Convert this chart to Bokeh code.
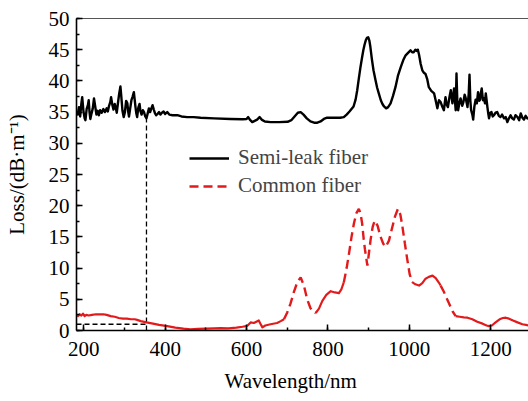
import numpy as np
from bokeh.plotting import figure
from bokeh.models import LinearAxis, SingleIntervalTicker, FixedTicker, Legend, LegendItem, Title
from bokeh.embed import file_html
from bokeh.resources import INLINE

# ---- data ----
semi_wl = [182, 185, 188, 191, 194, 196, 199, 202, 204, 207, 210, 212, 214, 216, 219, 222, 225, 228, 231, 234,
           237, 240, 244, 248, 252, 256, 259, 262, 265, 267, 270, 273, 276, 278, 281, 284, 287, 290, 292, 295,
           298, 301, 304, 307, 309, 311, 314, 317, 320, 323, 325, 327, 329, 331, 334, 337, 339, 342, 345, 348,
           351, 354, 357, 360, 363, 366, 369, 372, 375, 378, 381, 385, 388, 392, 396, 400, 405, 410, 418, 430,
           440, 454, 470, 487, 520, 560, 590, 600, 604, 608, 614, 620, 626, 632, 637, 645, 659, 680, 701, 710,
           718, 726, 733, 740, 748, 757, 766, 774, 782, 790, 798, 815, 830, 839, 846, 853, 858, 863, 868, 872,
           876, 880, 884, 887, 890, 893, 896, 899, 902, 904, 908, 912, 917, 921, 925, 930, 934, 938, 943, 948,
           954, 960, 966, 972, 979, 985, 991, 997, 1003, 1007, 1011, 1015, 1018, 1021, 1024, 1028, 1032, 1036,
           1040, 1044, 1048, 1054, 1061, 1065, 1069, 1073, 1077, 1081, 1085, 1089, 1092, 1095, 1099, 1102, 1106,
           1110, 1114, 1116, 1118, 1120, 1123, 1126, 1130, 1133, 1136, 1138, 1141, 1143, 1146, 1148, 1150, 1152,
           1155, 1157, 1160, 1163, 1166, 1169, 1172, 1174, 1176, 1178, 1181, 1184, 1186, 1188, 1190, 1192, 1194,
           1196, 1199, 1202, 1205, 1208, 1212, 1216, 1220, 1224, 1228, 1233, 1237, 1241, 1245, 1249, 1253, 1257,
           1261, 1266, 1270, 1274, 1278, 1282, 1286, 1290, 1295]
semi_loss = [35.0, 34.6, 35.8, 34.3, 36.4, 37.4, 35.2, 34.0, 33.7, 35.5, 36.1, 36.9, 35.0, 33.9, 34.8, 35.6, 37.2, 35.9, 34.6, 35.2,
             34.5, 35.3, 34.9, 35.5, 35.0, 35.6, 35.1, 36.0, 36.6, 37.4, 36.2, 35.4, 36.3, 35.8, 34.9, 36.5, 38.0, 39.1, 37.6, 35.2,
             34.2, 35.0, 36.8, 36.4, 35.1, 34.3, 35.6, 36.9, 37.5, 38.2, 37.0, 35.8, 34.8, 34.2, 35.7, 36.3, 35.2, 34.6, 35.3, 35.0,
             34.3, 34.0, 34.8, 35.6, 35.0, 35.6, 36.1, 35.4, 34.8, 34.5, 34.7, 35.0, 34.6, 34.9, 35.1, 34.7, 35.0, 34.6, 34.5, 34.5,
             34.3, 34.2, 34.2, 34.1, 34.0, 33.9, 33.85, 33.9, 34.2, 33.8, 33.4, 33.6, 33.8, 34.2, 33.8, 33.5, 33.4, 33.4, 33.45, 33.7,
             34.3, 34.9, 35.0, 34.6, 34.0, 33.5, 33.3, 33.3, 33.5, 33.9, 34.1, 34.1, 34.1, 34.2, 34.6, 35.1, 35.5, 35.9, 37.0, 38.5,
             40.4, 42.2, 43.8, 44.9, 45.8, 46.5, 46.9, 47.0, 46.4, 45.6, 43.5, 41.7, 40.1, 38.9, 38.0, 36.9, 36.3, 35.9, 35.6, 35.8,
             36.4, 37.6, 39.0, 40.8, 42.2, 43.3, 44.1, 44.5, 44.9, 44.6, 44.6, 45.0, 44.8, 45.0, 44.2, 42.7, 41.7, 41.3,
             41.1, 40.3, 39.0, 38.4, 38.0, 36.8, 35.6, 36.9, 36.6, 35.9, 35.3, 37.4, 36.2, 35.8, 37.5, 38.5, 36.4,
             38.8, 35.3, 41.2, 36.8, 35.3, 36.4, 37.2, 36.0, 36.6, 37.8, 37.4, 36.5, 35.8, 37.9, 41.0, 36.9, 35.3,
             34.6, 33.8, 35.9, 37.0, 36.4, 38.2, 36.8, 37.0, 38.1, 38.8, 36.9, 37.2, 36.4, 38.0, 36.9, 35.8, 34.8,
             34.0, 34.9, 35.0, 34.3, 34.5, 34.9, 35.0, 34.4, 34.2, 34.6, 34.0, 34.2, 33.4, 34.0, 34.5, 34.0, 33.8,
             34.5, 34.2, 33.7, 34.8, 34.1, 33.8, 34.4, 34.0, 33.9]

common_wl = [182, 186, 190, 194, 198, 202, 206, 212, 220, 230, 240, 248, 256, 266, 276, 286, 296, 306, 316, 325,
             331, 340, 354, 370, 385, 405, 425, 445, 462, 480, 500, 520, 536, 555, 575, 590, 602, 610, 618, 624,
             630, 634, 639, 646, 659, 675, 684, 692, 700, 708, 716, 725, 733, 741, 749, 757, 763, 770, 778, 786,
             796, 807, 817, 827, 833, 839, 846, 852, 858, 864, 870, 876, 880, 884, 888, 891, 897, 901, 905, 910,
             915, 922, 929, 936, 942, 950, 958, 965, 972, 978, 983, 989, 995, 1001, 1007, 1015, 1024, 1032, 1040,
             1048, 1057, 1065, 1073, 1077, 1085, 1093, 1100, 1107, 1114, 1124, 1134, 1143, 1155, 1167, 1180, 1190,
             1196, 1203, 1212, 1222, 1230, 1237, 1245, 1255, 1266, 1278, 1290, 1295]
common_loss = [2.5, 2.3, 2.6, 2.4, 2.7, 2.3, 2.5, 2.4, 2.5, 2.6, 2.6, 2.6, 2.5, 2.3, 2.2, 2.0, 1.9, 1.9, 1.8, 1.8,
               1.7, 1.5, 1.3, 1.1, 0.9, 0.7, 0.45, 0.3, 0.2, 0.25, 0.3, 0.35, 0.37, 0.35, 0.45, 0.6, 0.75, 1.3, 1.2, 1.4,
               1.6, 1.1, 0.5, 0.8, 1.0, 1.2, 1.5, 1.8, 2.9, 4.3, 6.1, 7.8, 8.5, 7.2, 5.0, 3.6, 3.0, 2.8, 3.5, 4.7,
               5.7, 6.3, 6.1, 6.0, 6.6, 7.7, 10.0, 12.4, 15.0, 17.2, 18.8, 19.5, 18.8, 17.2, 14.6, 13.0, 10.4, 12.5, 14.6, 16.6,
               17.6, 16.8, 15.1, 13.9, 13.4, 14.4, 16.5, 18.3, 19.5, 18.6, 16.7, 14.0, 11.4, 9.0, 7.75, 7.4, 7.2, 7.6, 8.3,
               8.6, 8.8, 8.4, 7.65, 7.2, 6.2, 5.0, 4.0, 3.0, 2.3, 2.2, 2.1, 2.05, 1.8, 1.4, 1.1, 0.8,
               0.7, 0.8, 1.3, 1.8, 2.0, 2.05, 1.9, 1.6, 1.3, 1.0, 0.85, 0.75]

marker_wl = 354
marker_loss_top = 34.0
marker_loss_low = 1.0

x_ticks_interval = 200
y_ticks_interval = 5

FONT = "Liberation Serif"
FS = "21px"

p = figure(width=528, height=401, x_range=(182, 1293), y_range=(0, 50),
           output_backend="svg", toolbar_location=None,
           min_border_left=76, min_border_right=0, min_border_top=18, min_border_bottom=70)
p.outline_line_color = None
p.grid.visible = False
p.background_fill_color = "white"

# red line style: solid where flat, dashed on steep sections
cw = np.array(common_wl, dtype=float)
cl = np.array(common_loss, dtype=float)
dashed_sections = [(692, 770), (839, 1007), (1077, 1114)]
dmask = np.zeros(len(cw), dtype=bool)
for a, b in dashed_sections:
    dmask |= (cw >= a) & (cw <= b)
smask = np.ones(len(cw), dtype=bool)
for a, b in dashed_sections:
    smask &= ~((cw > a) & (cw < b))
red_solid = np.where(smask, cl, np.nan)
red_dash = np.where(dmask, cl, np.nan)

# dashed helper lines
p.line([marker_wl, marker_wl], [0, marker_loss_top], line_color="black", line_width=1.3, line_dash="5 3")
p.line([182, marker_wl], [marker_loss_low, marker_loss_low], line_color="black", line_width=1.3, line_dash="5 3")

black = p.line(semi_wl, semi_loss, line_color="black", line_width=2.4, line_join="round")
rs = p.line(cw, red_solid, line_color="#e31a1c", line_width=2.2, line_join="round")
rd = p.line(cw, red_dash, line_color="#e31a1c", line_width=2.4, line_dash="9 5")

legend = Legend(items=[LegendItem(label="Semi-leak fiber", renderers=[black]),
                       LegendItem(label="Common fiber", renderers=[rd])],
                location=(113, 132))
legend.background_fill_alpha = 0
legend.border_line_color = None
legend.label_text_font = FONT
legend.label_text_font_size = FS
legend.glyph_width = 40
legend.label_standoff = 9
legend.padding = 0
legend.spacing = 3
legend.margin = 0
p.add_layout(legend, "center")

for ax in (p.xaxis[0], p.yaxis[0]):
    ax.axis_line_width = 1.6
    ax.axis_line_color = "black"
    ax.major_tick_in = 6
    ax.major_tick_out = 0
    ax.minor_tick_in = 3
    ax.minor_tick_out = 0
    ax.major_tick_line_width = 1.5
    ax.minor_tick_line_width = 1.5
    ax.major_label_text_font = FONT
    ax.major_label_text_font_size = FS
    ax.major_label_text_color = "black"
    ax.axis_label_text_font = FONT
    ax.axis_label_text_font_size = FS
    ax.axis_label_text_font_style = "normal"
    ax.axis_label_text_color = "black"

p.xaxis.ticker = SingleIntervalTicker(interval=x_ticks_interval, num_minor_ticks=2)
p.yaxis.ticker = SingleIntervalTicker(interval=y_ticks_interval, num_minor_ticks=2)
p.yaxis.axis_label = "Loss/(dB·m⁻¹)"
p.xaxis.major_label_standoff = 11
p.yaxis.major_label_standoff = 7
p.yaxis.axis_label_standoff = 17

# x-axis title placed as a below-title so it can sit left of centre as in the reference
xtitle = Title(text="Wavelength/nm", align="left", offset=148, standoff=17,
               text_font=FONT, text_font_size=FS, text_font_style="normal", text_color="black")
p.add_layout(xtitle, "below")

top = LinearAxis(ticker=FixedTicker(ticks=[]))
top.major_tick_line_color = None
top.minor_tick_line_color = None
top.axis_line_color = "#555555"
top.axis_line_width = 1
p.add_layout(top, "above")

open("out.html", "w").write(file_html(p, INLINE))
